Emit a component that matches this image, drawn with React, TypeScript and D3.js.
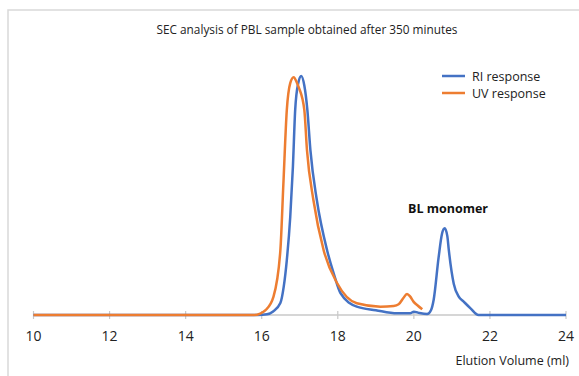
import React from "react";
import * as d3 from "d3";

const title = "SEC analysis of PBL sample obtained after 350 minutes";
const xTicks = [10, 12, 14, 16, 18, 20, 22, 24];
const xLabel = "Elution Volume (ml)";
const annotation = "BL monomer";
const seriesNames = ["RI response", "UV response"];
const seriesColors = ["#4472C4", "#ED7D31"];

const riX = [10, 15.9, 16.14, 16.3, 16.49, 16.58, 16.66, 16.75, 16.82, 16.88, 16.96, 17.04, 17.12, 17.2, 17.28, 17.45, 17.72, 17.9, 18.07, 18.5, 19.0, 19.56, 19.9, 20.0, 20.15, 20.35, 20.45, 20.52, 20.65, 20.74, 20.81, 20.88, 20.92, 21.05, 21.18, 21.31, 21.49, 21.7, 24];
const riY = [0, 0, 0.003, 0.015, 0.05, 0.12, 0.23, 0.41, 0.62, 0.858, 0.97, 1.0, 0.96, 0.858, 0.69, 0.48, 0.27, 0.17, 0.092, 0.035, 0.02, 0.007, 0.007, 0.014, 0.008, 0.004, 0.02, 0.063, 0.24, 0.34, 0.363, 0.33, 0.27, 0.13, 0.077, 0.056, 0.028, 0, 0];

const uvX = [10, 15.8, 15.96, 16.1, 16.31, 16.49, 16.57, 16.66, 16.75, 16.84, 16.93, 16.98, 17.12, 17.19, 17.36, 17.63, 17.98, 18.5, 19.12, 19.47, 19.6, 19.72, 19.82, 19.9, 19.99, 20.1, 20.22];
const uvY = [0, 0, 0.006, 0.02, 0.077, 0.27, 0.55, 0.858, 0.97, 0.995, 0.97, 0.95, 0.858, 0.69, 0.48, 0.27, 0.134, 0.049, 0.035, 0.038, 0.045, 0.07, 0.088, 0.078, 0.056, 0.04, 0.024];

export default function App() {
  const W = 579, H = 376;
  const x = d3.scaleLinear().domain([10, 24]).range([33.5, 566]);
  const y = d3.scaleLinear().domain([0, 1]).range([315, 76]);
  const line = d3
    .line<[number, number]>()
    .x((d) => x(d[0]))
    .y((d) => y(d[1]))
    .curve(d3.curveMonotoneX);
  const ri = riX.map((v, i) => [v, riY[i]] as [number, number]);
  const uv = uvX.map((v, i) => [v, uvY[i]] as [number, number]);
  const font = "'Open Sans', sans-serif";
  return (
    <svg
      width={W}
      height={H}
      style={{ position: "absolute", left: 0, top: 0, background: "#fff" }}
      fontFamily={font}
    >
      <rect x={8} y={10} width={W + 10} height={H + 10} fill="#fff" stroke="#d9d9d9" strokeWidth={1.5} />
      <text x={307} y={34} textAnchor="middle" fontSize={12} fill="#222" textLength={301} lengthAdjust="spacingAndGlyphs">
        {title}
      </text>
      <line x1={x(10)} x2={x(24)} y1={y(0)} y2={y(0)} stroke="#c8c8c8" strokeWidth={1.5} />
      {xTicks.map((t) => (
        <g key={t}>
          <line x1={x(t)} x2={x(t)} y1={y(0) - 4} y2={y(0) + 4} stroke="#c8c8c8" strokeWidth={1.2} />
          <text x={x(t)} y={341} textAnchor="middle" fontSize={14} fill="#222">
            {t}
          </text>
        </g>
      ))}
      <text x={569} y={365} textAnchor="end" fontSize={12.5} fill="#222">
        {xLabel}
      </text>
      <path d={line(ri) || ""} fill="none" stroke={seriesColors[0]} strokeWidth={2.5} strokeLinejoin="round" />
      <path d={line(uv) || ""} fill="none" stroke={seriesColors[1]} strokeWidth={2.5} strokeLinejoin="round" />
      <text x={448} y={213} textAnchor="middle" fontSize={12.5} fontWeight="bold" fill="#111">
        {annotation}
      </text>
      {seriesNames.map((n, i) => (
        <g key={n}>
          <line x1={442} x2={465} y1={76 + i * 17} y2={76 + i * 17} stroke={seriesColors[i]} strokeWidth={2.5} />
          <text x={472} y={80.5 + i * 17} fontSize={12.5} fill="#222">
            {n}
          </text>
        </g>
      ))}
    </svg>
  );
}
